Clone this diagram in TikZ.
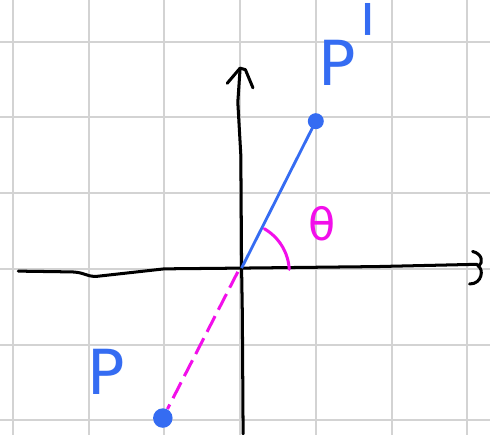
\documentclass[tikz,border=0pt]{standalone}
\usepackage{fontspec}
\setmainfont{DejaVu Sans}
\usetikzlibrary{calc}
\definecolor{skgrid}{HTML}{D3D3D3}
\definecolor{skblue}{HTML}{356CF2}
\definecolor{skpink}{HTML}{F20FEA}
\tikzset{
  axis/.style={black, line width=1.7pt, line cap=round, line join=round},
  pt/.style={circle, fill=skblue, inner sep=0pt, minimum size=9pt},
  lbl/.style={skblue, font=\fontsize{35}{35}\selectfont},
}
\begin{document}
\begin{tikzpicture}[x=1.5cm, y=1.5cm]
        \useasboundingbox (-3.17,-2.19) rectangle (3.30,3.55);
        \fill[white] (-3.17,-2.19) rectangle (3.30,3.55);
        % grid
        \foreach \gx in {-3,...,3}
          \draw[skgrid, line width=1.1pt] (\gx,-2.19) -- (\gx,3.55);
        \foreach \gy in {-2,...,3}
          \draw[skgrid, line width=1.1pt] (-3.17,\gy) -- (3.30,\gy);
        \coordinate (O) at (0.02,0.01);
        % axes
        \draw[axis] (-2.93,-0.03) -- (-2.25,-0.04) .. controls (-2.05,-0.04) and (-2.05,-0.1) .. (-1.9,-0.1)
          -- (-1.0,0.0) -- (O) -- (1.8,0.03) -- (3.13,0.06);
        \draw[axis] (3.07,0.23) .. controls (3.2,0.2) and (3.22,0.07) .. (3.14,0.04)
          .. controls (3.22,0.0) and (3.2,-0.2) .. (3.03,-0.2);
        \draw[axis] (0.04,-2.18) -- (0.03,-0.6) -- (O) -- (0.01,1.5) -- (-0.03,2.2) -- (0.0,2.64);
        \draw[axis] (-0.17,2.45) -- (0.0,2.65) -- (0.07,2.63) -- (0.17,2.39);
        % points and lines
        \node[pt] (Pp) at (1.0,1.95) {};
        \node[pt, minimum width=8pt, minimum height=11pt] (P) at (-1.02,-1.97) {};
        \draw[skblue, line width=1.6pt] (O) -- (Pp.center);
        \draw[skpink, line width=1.7pt, dash pattern=on 10pt off 4pt] ($(O)+(-0.05,-0.05)$) -- (P);
        \draw[skpink, line width=1.7pt, line cap=round] (O) ++(60:0.6) arc (60:3:0.66);
        % labels
        \node[lbl, anchor=base west, inner sep=0pt] (PpL) at (1.03,2.42) {P\kern0.05em\raisebox{-0.07em}{\scalebox{1}[1.9]{\textquotesingle}}};
        \node[lbl] (PL) at (-1.77,-1.36) {P};
        \node[skpink, font=\fontsize{25}{25}\selectfont] (th) at (1.08,0.6) {θ};
      \end{tikzpicture}
\end{document}
